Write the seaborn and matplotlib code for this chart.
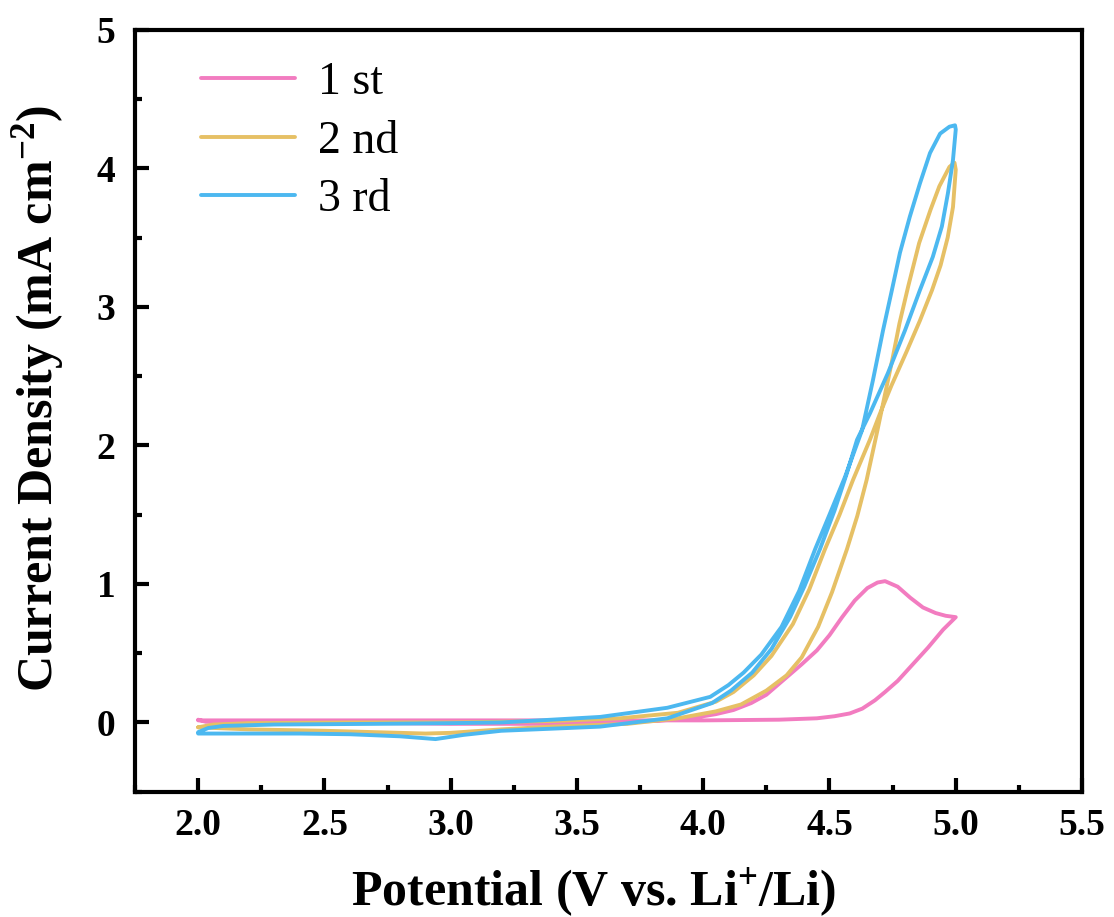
import numpy as np
import pandas as pd
import matplotlib
matplotlib.use("Agg")
import matplotlib.pyplot as plt
import seaborn as sns

# ---------------- data ----------------
cycle_labels = ["1 st", "2 nd", "3 rd"]

# cycle 1: anodic sweep 2.0 -> 5.0, then cathodic sweep 5.0 -> 2.0
c1_fwd_v = [2.0, 2.03, 2.2, 2.5, 3.0, 3.5, 3.8, 3.95, 4.05, 4.12, 4.19, 4.25, 4.32,
            4.39, 4.45, 4.5, 4.55, 4.6, 4.65, 4.69, 4.72, 4.77, 4.82, 4.87, 4.92, 4.96, 5.0]
c1_fwd_i = [0.02, 0.005, 0.0, 0.0, -0.01, -0.01, 0.01, 0.03, 0.06, 0.09, 0.14, 0.20, 0.31,
            0.42, 0.52, 0.63, 0.76, 0.88, 0.97, 1.01, 1.02, 0.98, 0.90, 0.83, 0.79, 0.77, 0.76]
c1_rev_v = [5.0, 4.95, 4.89, 4.83, 4.77, 4.72, 4.68, 4.63, 4.58, 4.52, 4.45, 4.3, 4.0,
            3.5, 3.0, 2.5, 2.0]
c1_rev_i = [0.76, 0.67, 0.54, 0.42, 0.30, 0.22, 0.16, 0.10, 0.065, 0.045, 0.03, 0.02, 0.015,
            0.015, 0.015, 0.015, 0.015]

# cycle 2
c2_fwd_v = [2.0, 2.06, 2.2, 2.6, 3.0, 3.4, 3.67, 3.9, 4.05, 4.12, 4.2, 4.27, 4.355, 4.42,
            4.482, 4.54, 4.593, 4.66, 4.70, 4.745, 4.806, 4.858, 4.906, 4.94, 4.968, 4.989,
            5.0]
c2_fwd_i = [-0.035, -0.015, -0.005, 0.0, 0.0, 0.01, 0.03, 0.07, 0.15, 0.22, 0.34, 0.48, 0.71,
            0.96, 1.25, 1.50, 1.75, 2.04, 2.23, 2.43, 2.68, 2.90, 3.12, 3.30, 3.50, 3.72,
            3.99]
c2_rev_v = [4.995, 4.975, 4.935, 4.9, 4.855, 4.812, 4.777, 4.75, 4.72, 4.69, 4.647,
            4.61, 4.569, 4.51, 4.455, 4.39, 4.33, 4.25, 4.15, 4.05, 3.9, 3.7, 3.4, 3.2, 3.0,
            2.9, 2.7, 2.5, 2.2, 2.0]
c2_rev_i = [4.04, 4.01, 3.87, 3.70, 3.46, 3.15, 2.88, 2.63, 2.37, 2.11, 1.75,
            1.49, 1.25, 0.94, 0.69, 0.47, 0.34, 0.23, 0.13, 0.08, 0.03, -0.01, -0.03, -0.05,
            -0.075, -0.08, -0.07, -0.06, -0.05, -0.035]

# cycle 3
c3_fwd_v = [2.0, 2.04, 2.1, 2.3, 2.7, 3.0, 3.2, 3.4, 3.592, 3.858, 4.028, 4.10, 4.16, 4.23,
            4.31, 4.38, 4.443, 4.50, 4.561, 4.629, 4.672, 4.712, 4.747, 4.779, 4.818, 4.858,
            4.898, 4.938, 4.975, 4.997]
c3_fwd_i = [-0.07, -0.04, -0.025, -0.015, -0.01, -0.005, 0.0, 0.02, 0.04, 0.106, 0.185, 0.27,
            0.36, 0.49, 0.69, 0.95, 1.25, 1.50, 1.77, 2.11, 2.47, 2.83, 3.12, 3.39, 3.65,
            3.89, 4.11, 4.25, 4.30, 4.31]
c3_rev_v = [5.0, 4.989, 4.969, 4.945, 4.909, 4.858, 4.799, 4.731, 4.66, 4.609, 4.569,
            4.52, 4.462, 4.40, 4.344, 4.27, 4.194, 4.11, 4.035, 3.858, 3.592, 3.4, 3.2,
            3.05, 2.94, 2.8, 2.6, 2.4, 2.2, 2.0]
c3_rev_i = [4.28, 4.06, 3.82, 3.58, 3.36, 3.12, 2.83, 2.52, 2.23, 2.04, 1.80,
            1.53, 1.25, 0.98, 0.76, 0.53, 0.36, 0.23, 0.14, 0.03, -0.03, -0.045, -0.06,
            -0.09, -0.12, -0.10, -0.085, -0.08, -0.08, -0.08]

x_ticks = [2.0, 2.5, 3.0, 3.5, 4.0, 4.5, 5.0, 5.5]
y_ticks = [0, 1, 2, 3, 4, 5]
colors = ["#F27CC0", "#E6C065", "#4CB8F0"]

# ---------------- build table ----------------
frames = []
for lab, fv, fi, rv, ri in [
    (cycle_labels[0], c1_fwd_v, c1_fwd_i, c1_rev_v, c1_rev_i),
    (cycle_labels[1], c2_fwd_v, c2_fwd_i, c2_rev_v, c2_rev_i),
    (cycle_labels[2], c3_fwd_v, c3_fwd_i, c3_rev_v, c3_rev_i),
]:
    v = list(fv) + list(rv)
    i = list(fi) + list(ri)
    frames.append(pd.DataFrame({"Potential": v, "Current": i, "Cycle": lab}))
df = pd.concat(frames, ignore_index=True)

# ---------------- style ----------------
sns.set_theme(style="ticks")
plt.rcParams["font.family"] = ["Liberation Serif", "DejaVu Serif"]
plt.rcParams["mathtext.fontset"] = "custom"
plt.rcParams["mathtext.rm"] = "Liberation Serif:bold"
plt.rcParams["mathtext.it"] = "Liberation Serif:bold"
plt.rcParams["mathtext.bf"] = "Liberation Serif:bold"
for key in ["text.color", "axes.labelcolor", "xtick.color", "ytick.color", "axes.edgecolor"]:
    plt.rcParams[key] = "black"

fig = plt.figure(figsize=(11.14, 9.17), dpi=100)
ax = fig.add_axes([0.1212, 0.1366, 0.9713 - 0.1212, 0.9676 - 0.1366])

sns.lineplot(data=df, x="Potential", y="Current", hue="Cycle", hue_order=cycle_labels,
             palette=colors, sort=False, estimator=None, linewidth=2.8, ax=ax)
for ln in ax.get_lines():
    ln.set_solid_joinstyle("round")

ax.set_xlim(1.75, 5.5)
ax.set_ylim(-0.5, 5)
ax.set_xticks(x_ticks)
ax.set_xticklabels([f"{t:.1f}" for t in x_ticks])
ax.set_yticks(y_ticks)
ax.set_yticklabels([str(t) for t in y_ticks])
ax.set_xticks(np.arange(1.75, 5.51, 0.25), minor=True)
ax.set_yticks(np.arange(-0.5, 5.01, 0.5), minor=True)

for sp in ax.spines.values():
    sp.set_linewidth(3)
    sp.set_color("black")

ax.tick_params(axis="both", which="major", direction="in", length=10, width=3,
               labelsize=27, pad=12, colors="black")
ax.tick_params(axis="y", which="major", pad=14)
ax.tick_params(axis="both", which="minor", direction="in", length=5, width=3)
ax.tick_params(top=False, right=False, which="both")
for lbl in ax.get_xticklabels() + ax.get_yticklabels():
    lbl.set_fontweight("bold")

ax.set_xlabel(r"Potential (V vs. Li$^{+}$/Li)", fontsize=36, fontweight="bold")
ax.set_ylabel(r"Current Density (mA cm$^{-2}$)", fontsize=36, fontweight="bold")
ax.xaxis.set_label_coords(0.484, -0.098)
ax.yaxis.set_label_coords(-0.073, 0.516)

leg = ax.legend(loc="upper left", bbox_to_anchor=(0.05, 0.982), frameon=False,
                fontsize=33, handlelength=2.05, handletextpad=0.5, labelspacing=0.35,
                borderaxespad=0.0)
for line in leg.get_lines():
    line.set_linewidth(2.8)

fig.savefig("out.png", dpi=100)
